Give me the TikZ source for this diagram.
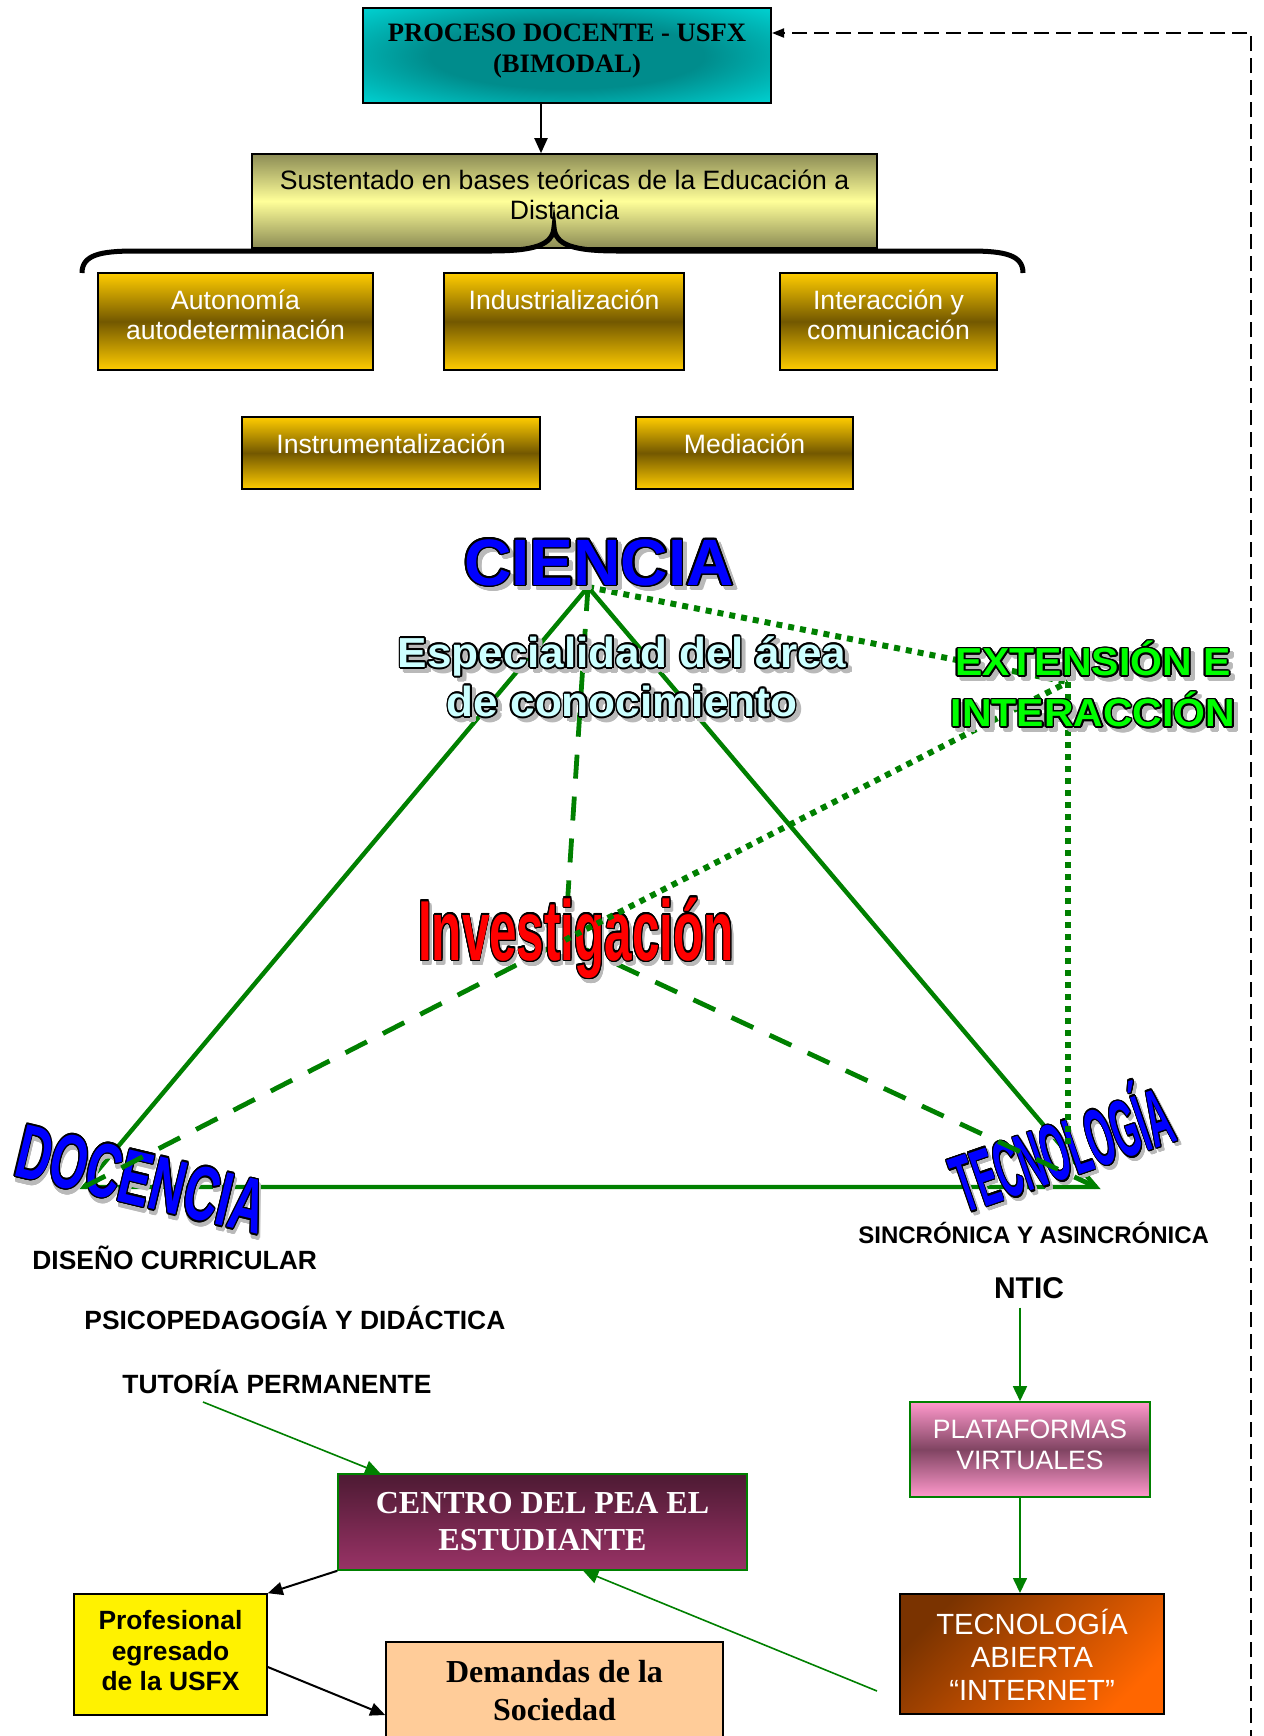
\documentclass[tikz,border=0pt]{standalone}
\usepackage{fontspec}
\setmainfont{Liberation Serif}
\newfontfamily\arial{Liberation Sans}
\usepackage{contour}
\contourlength{0.8pt}
\usetikzlibrary{positioning,arrows.meta}

\definecolor{linegreen}{RGB}{0,128,0}
\definecolor{procesocyan}{RGB}{0,255,255}
\definecolor{procesoteal}{RGB}{0,140,140}
\definecolor{olivetop}{RGB}{140,140,85}
\definecolor{paleyellow}{RGB}{255,255,153}
\definecolor{goldtop}{RGB}{255,204,0}
\definecolor{golddark}{RGB}{115,88,0}
\definecolor{pinktop}{RGB}{255,153,204}
\definecolor{mauve}{RGB}{128,68,98}
\definecolor{wine}{RGB}{77,26,51}
\definecolor{plum}{RGB}{153,51,102}
\definecolor{rust}{RGB}{122,51,0}
\definecolor{orangebox}{RGB}{255,102,0}
\definecolor{peach}{RGB}{255,204,153}
\definecolor{shadowgray}{RGB}{185,185,185}
\definecolor{wordblue}{RGB}{0,0,255}
\definecolor{wordred}{RGB}{255,0,0}
\definecolor{wordgreen}{RGB}{0,255,0}
\definecolor{wordcyan}{RGB}{204,255,255}

% teal glow behind the title
\pgfdeclareradialshading{procglow}{\pgfpoint{0bp}{0bp}}{color(0bp)=(procesoteal); color(9bp)=(procesoteal);
    color(25bp)=(procesocyan); color(50bp)=(procesocyan)}

% outlined word with a grey drop shadow
\newcommand\artword[2]{\rlap{\kern2pt\raisebox{-2pt}{\textcolor{shadowgray}{\contour{shadowgray}{#2}}}}\textcolor{#1}{\contour{black}{#2}}}

\begin{document}
\begin{tikzpicture}[x=0.5pt, y={(0pt,-0.5pt)}]

\tikzset{
    box/.style={draw=black, line width=0.8pt, inner sep=0pt},
    goldbox/.style={box, top color=goldtop, bottom color=goldtop, middle color=golddark},
    boxtext/.style={anchor=north, inner sep=0pt, align=center},
    sansfont/.style={font=\arial\fontsize{13.3}{15}\selectfont},
    goldtext/.style={boxtext, sansfont, text=white},
    word/.style={inner sep=0pt, align=center},
    lbl/.style={inner sep=0pt, anchor=base west, font=\arial\bfseries\fontsize{13.2}{15}\selectfont},
    tri/.style={draw=linegreen, line width=2.2pt},
    tridash/.style={tri, line width=2.4pt, dash pattern=on 12pt off 9pt},
    tridot/.style={tri, line width=3pt, dash pattern=on 3pt off 3pt},
    blackarrow/.style={-{Triangle[length=7.5pt,width=6.5pt]}, line width=1pt},
    greenarrow/.style={-{Triangle[length=7.5pt,width=7pt]}, draw=linegreen, line width=0.8pt},
    fbline/.style={-{Triangle[length=6pt,width=4.5pt]}, line width=0.9pt, dash pattern=on 7.5pt off 3.5pt}
}

\useasboundingbox (0,0) rectangle (1264,1736);
\fill[white] (0,0) rectangle (1264,1736);

% upper block
\node[box, line width=1pt, fill=procesocyan, minimum width=204pt, minimum height=47.5pt,
    path picture={\shade[shading=procglow]
        (path picture bounding box.center) ellipse (190pt and 46pt);}] (proceso) at (567,55.5) {};
\node[boxtext, below=6pt of proceso.north, font=\bfseries\fontsize{13.3}{15.5}\selectfont] (procesotxt)
    {\strut PROCESO DOCENTE - USFX\\(BIMODAL)};

\node[box, top color=olivetop, bottom color=olivetop, middle color=paleyellow,
    minimum width=312.5pt, minimum height=47pt] (sustento) at (564.5,201) {};
\node[boxtext, sansfont, below=7.25pt of sustento.north] (sustentotxt)
    {\strut Sustentado en bases teóricas de la Educación a\\Distancia};

\draw[blackarrow] ([xshift=-13pt]proceso.south) -- ([xshift=-13pt]proceso.south |- sustento.north);

\node[goldbox, minimum width=137.5pt, minimum height=48.5pt] (autonomia) at (235.5,321.5) {};
\node[goldbox, minimum width=120pt, minimum height=48.5pt] (industria) at (564,321.5) {};
\node[goldbox, minimum width=108.5pt, minimum height=48.5pt] (interaccion) at (888.5,321.5) {};
\node[goldbox, minimum width=149pt, minimum height=36pt] (instrumento) at (391,453) {};
\node[goldbox, minimum width=108.5pt, minimum height=36pt] (mediacion) at (744.5,453) {};

\node[goldtext, below=7.9pt of autonomia.north] (autonomiatxt) {\strut Autonomía\\autodeterminación};
\node[goldtext, below=7.9pt of industria.north] (industriatxt) {\strut Industrialización};
\node[goldtext, below=7.9pt of interaccion.north] (interacciontxt) {\strut Interacción y\\comunicación};
\node[goldtext, below=7.9pt of instrumento.north] (instrumentotxt) {\strut Instrumentalización};
\node[goldtext, below=7.9pt of mediacion.north] (mediaciontxt) {\strut Mediación};

% brace under the theory box
\coordinate (bracel) at (82,273);
\coordinate (bracetip) at (554,227);
\coordinate (bracer) at (1023,273);
\draw[line width=2.5pt] (bracel) .. controls (82,255) and (100,251) .. (135,251) -- (490,251)
    .. controls (535,251) and (553,245) .. (bracetip)
    .. controls (555,245) and (573,251) .. (618,251) -- (970,251)
    .. controls (1005,251) and (1023,255) .. (bracer);

% triangle
\coordinate (apex) at (588,587);
\coordinate (vdoc) at (84,1187);
\coordinate (vtec) at (1096,1187);
\coordinate (core) at (565,940);
\coordinate (ext) at (1068,682);

\draw[tri] (apex) -- (vdoc) -- (vtec) -- cycle;

\node[word, rotate=-13.5, xscale=0.62, font=\arial\bfseries\fontsize{38.4}{40}\selectfont] (docencia)
    at (141,1182) {\artword{wordblue}{DOCENCIA}};
\node[word, rotate=19, xscale=0.42, font=\arial\bfseries\fontsize{40.5}{42}\selectfont] (tecnologia)
    at (1061,1146) {\artword{wordblue}{TECNOLOGÍA}};

\draw[tridash] (apex) -- (core);
\draw[tridash] (vdoc) -- (core);
\draw[tridash] (vtec) -- (core);

\node[word, anchor=base, xscale=0.58, font=\arial\bfseries\fontsize{42.6}{45}\selectfont] (investigacion)
    at (576,960) {\artword{wordred}{Investigación}};

\draw[tridot] (apex) -- (ext);
\draw[tridot] (core) -- (ext);
\draw[tridot] (ext) -- (ext |- tecnologia.center);

\node[word, anchor=base, font=\arial\bfseries\fontsize{32.8}{36}\selectfont] (ciencia)
    at (599,585) {\artword{wordblue}{CIENCIA}};
\node[word, xscale=1.05, font=\arial\bfseries\fontsize{21}{24.5}\selectfont] (especialidad)
    at (622,679.5) {\artword{wordcyan}{Especialidad del área}\\\artword{wordcyan}{de conocimiento}};
\node[word, xscale=1.05, font=\arial\bfseries\fontsize{19.5}{25.5}\selectfont] (extension)
    at (1093,687) {\artword{wordgreen}{EXTENSIÓN E}\\\artword{wordgreen}{INTERACCIÓN}};

% labels under the triangle
\node[lbl] (diseno) at (32,1269) {DISEÑO CURRICULAR};
\node[lbl] (psico) at (84,1329) {PSICOPEDAGOGÍA Y DIDÁCTICA};
\node[lbl] (tutoria) at (122,1393) {TUTORÍA PERMANENTE};
\node[lbl, font=\arial\bfseries\fontsize{12}{14}\selectfont] (sincro) at (858,1243) {SINCRÓNICA Y ASINCRÓNICA};
\node[lbl, anchor=base, font=\arial\bfseries\fontsize{15}{17}\selectfont] (ntic) at (1029,1298) {NTIC};

% lower block
\node[box, draw=linegreen, top color=pinktop, bottom color=pinktop, middle color=mauve,
    minimum width=120pt, minimum height=47.5pt] (plataformas) at (1030,1449.5) {};
\node[boxtext, below=7.4pt of plataformas.north, text=white, font=\arial\fontsize{13.3}{15.5}\selectfont]
    (plataformastxt) {\strut PLATAFORMAS\\VIRTUALES};

\node[box, line width=1pt, top color=rust, bottom color=orangebox, shading angle=45,
    minimum width=132pt, minimum height=60pt] (abierta) at (1032,1654) {};
\node[boxtext, below=7.7pt of abierta.north, text=white, font=\arial\fontsize{14.6}{16.5}\selectfont]
    (abiertatxt) {\strut TECNOLOGÍA\\ABIERTA\\“INTERNET”};

\node[box, draw=linegreen, top color=wine, bottom color=plum,
    minimum width=204.5pt, minimum height=48pt] (centro) at (542.5,1522) {};
\node[boxtext, below=7.05pt of centro.north, text=white, font=\bfseries\fontsize{16}{18.5}\selectfont]
    (centrotxt) {\strut CENTRO DEL PEA EL\\ESTUDIANTE};

\node[box, fill=yellow, minimum width=96.5pt, minimum height=60.5pt] (profesional) at (170.5,1654.5) {};
\node[boxtext, below=7.3pt of profesional.north, font=\arial\bfseries\fontsize{13.2}{15.25}\selectfont]
    (profesionaltxt) {\strut Profesional\\egresado\\de la USFX};

\node[box, fill=peach, minimum width=168.5pt, minimum height=59pt] (demandas) at (554.5,1701) {};
\node[boxtext, below=7pt of demandas.north, font=\bfseries\fontsize{16}{19}\selectfont]
    (demandastxt) {\strut Demandas de la\\Sociedad};

% connectors
\draw[greenarrow] ([shift={(-4.5pt,-4.5pt)}]ntic.south) -- ([xshift=-4.5pt]ntic.south |- plataformas.north);
\draw[greenarrow] ([xshift=-5pt]plataformas.south) -- ([xshift=-5pt]plataformas.south |- abierta.north);
\draw[greenarrow] ([shift={(40.5pt,-4.5pt)}]tutoria.base west) -- ([xshift=21.5pt]centro.north west);
\coordinate (inet) at (877,1691);
\draw[greenarrow] (inet) -- ([xshift=123pt]centro.south west);
\draw[blackarrow] (centro.south west) -- (profesional.north east);
\draw[blackarrow] ([yshift=-6.25pt]profesional.east) -- ([yshift=-7pt]demandas.west);

% feedback line back to the top
\coordinate (fbstart) at (1251,1745);
\draw[fbline] (fbstart) |- ([yshift=11.25pt]proceso.east);

\end{tikzpicture}
\end{document}
